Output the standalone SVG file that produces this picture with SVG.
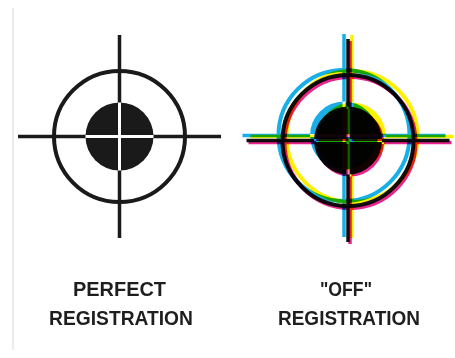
<svg xmlns="http://www.w3.org/2000/svg" xmlns:xlink="http://www.w3.org/1999/xlink" width="455" height="358" viewBox="0 0 455 358">
  <style>
    .ring { fill: none; stroke: currentColor; stroke-width: 4; }
    .disk { fill: currentColor; }
    .hair { stroke: currentColor; stroke-width: 3.5; }
    .gap { stroke: #ffffff; stroke-width: 3; }
    .lbl { font-family: "Liberation Sans", "DejaVu Sans", sans-serif; font-size: 21px; font-weight: bold; fill: #1e1e1e; text-anchor: middle; }
    .mul { mix-blend-mode: multiply; }
  </style>
  <defs>
    <g id="tgt">
      <circle class="ring" cx="0" cy="0" r="65.5"/>
      <circle class="disk" cx="0" cy="0" r="34"/>
      <line class="hair" x1="-101.5" y1="0" x2="101.5" y2="0"/>
      <line class="hair" x1="0" y1="-101.5" x2="0" y2="101.5"/>
      <line class="gap" x1="-34" y1="0" x2="34" y2="0"/>
      <line class="gap" x1="0" y1="-34" x2="0" y2="34"/>
    </g>
  </defs>
  <rect x="0" y="0" width="455" height="358" fill="#ffffff"/>
  <line x1="13" y1="8" x2="13" y2="350" stroke="#ececec" stroke-width="2"/>

  <g id="target-perfect">
    <use xlink:href="#tgt" x="119.5" y="136.5" color="#1a1a1a"/>
  </g>

  <g id="target-off" style="isolation:isolate">
    <use class="mul" xlink:href="#tgt" x="344" y="135.5" color="#19aee8"/>
    <use class="mul" xlink:href="#tgt" x="352" y="136.5" color="#fff000"/>
    <use class="mul" xlink:href="#tgt" x="350" y="142.5" color="#e6268c"/>
    <use class="mul" xlink:href="#tgt" x="348" y="140.5" color="#111111"/>
  </g>

  <g id="label-perfect">
    <text class="lbl" x="119.5" y="296" textLength="93" lengthAdjust="spacingAndGlyphs">PERFECT</text>
    <text class="lbl" x="121" y="325" textLength="144" lengthAdjust="spacingAndGlyphs">REGISTRATION</text>
  </g>

  <g id="label-off">
    <text class="lbl" x="346" y="296" textLength="52" lengthAdjust="spacingAndGlyphs">"OFF"</text>
    <text class="lbl" x="349" y="325" textLength="142" lengthAdjust="spacingAndGlyphs">REGISTRATION</text>
  </g>
</svg>
